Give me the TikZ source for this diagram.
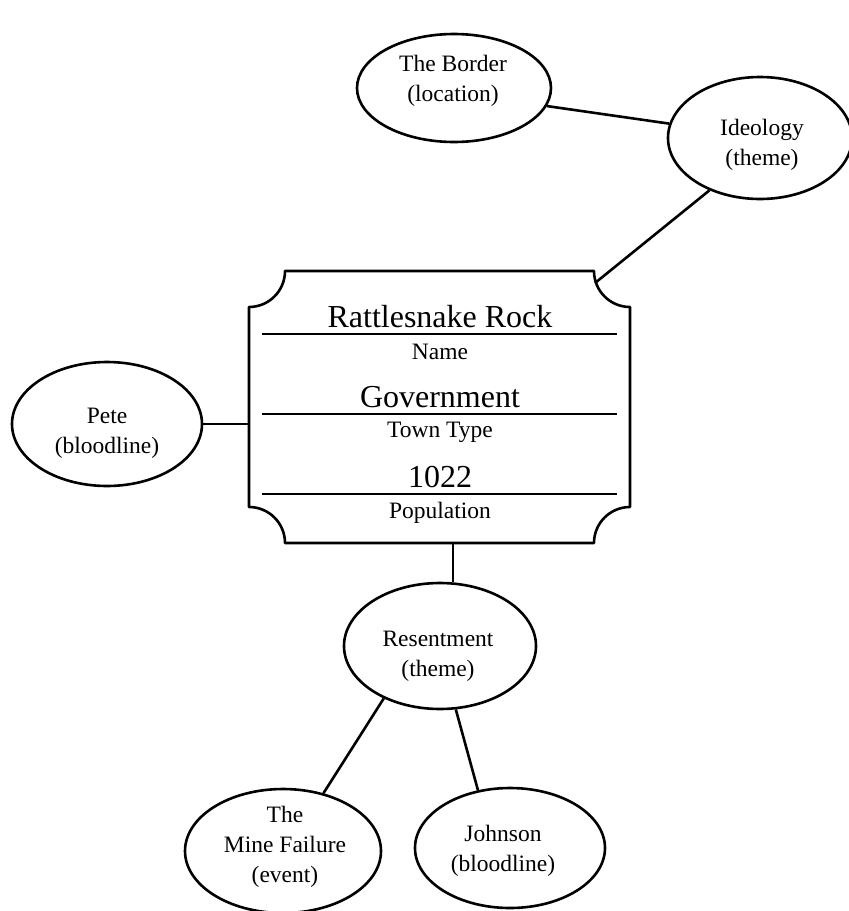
\documentclass[tikz,border=0pt]{standalone}
\usepackage{fontspec}
\setmainfont{Liberation Serif}
\usetikzlibrary{shapes.geometric}
\begin{document}
\begin{tikzpicture}[x=1pt,y=1pt,
  bubble/.style={draw, ellipse, line width=2.6pt, inner sep=0pt},
  small/.style={font=\fontsize{23.5}{30}\selectfont, align=center, inner sep=0pt},
  big/.style={font=\fontsize{32}{36}\selectfont, anchor=base, inner sep=0pt},
  tag/.style={font=\fontsize{23.5}{30}\selectfont, anchor=base, inner sep=0pt},
  link/.style={line width=2.6pt},
  rule/.style={line width=1.3pt}]
\useasboundingbox (0,0) rectangle (849,-911);
\clip (0,0) rectangle (849,-911);

% the town card with its notched corners
\node[minimum width=381pt, minimum height=272pt, inner sep=0pt] (town) at (439.5,-407) {};
\draw[line width=2.6pt, line join=round]
  (285,-271) -- (594,-271) arc[start angle=180, end angle=270, radius=36pt]
  -- (630,-507) arc[start angle=90, end angle=180, radius=36pt]
  -- (285,-543) arc[start angle=0, end angle=90, radius=36pt]
  -- (249,-307) arc[start angle=270, end angle=360, radius=36pt] -- cycle;
\draw[rule] (262,-334) -- (617,-334);
\draw[rule] (262,-414) -- (617,-414);
\draw[rule] (262,-494) -- (617,-494);
\node[big] (name) at (440,-327) {Rattlesnake Rock};
\node[tag] (namel) at (440,-359) {Name};
\node[big] (type) at (440,-407) {Government};
\node[tag] (typel) at (440,-437) {Town Type};
\node[big] (pop) at (440,-487) {1022};
\node[tag] (popl) at (440,-518) {Population};

% linked elements
\node[bubble, minimum width=194pt, minimum height=108pt] (bd) at (454,-88) {};
\node[small] (bdt) at (453,-81) {The Border\\(location)};
\node[bubble, minimum width=184pt, minimum height=122pt] (id) at (760,-138) {};
\node[small] (idt) at (762,-145) {Ideology\\(theme)};
\node[bubble, minimum width=190pt, minimum height=124pt] (pete) at (107,-424) {};
\node[small] (petet) at (107,-433) {Pete\\(bloodline)};
\node[bubble, minimum width=192pt, minimum height=126pt] (res) at (440,-646) {};
\node[small] (rest) at (438,-656) {Resentment\\(theme)};
\node[bubble, minimum width=196pt, minimum height=124pt] (mine) at (283,-851) {};
\node[small] (minet) at (285,-847) {The\\Mine Failure\\(event)};
\node[bubble, minimum width=190pt, minimum height=120pt] (john) at (510,-848) {};
\node[small] (johnt) at (503,-851) {Johnson\\(bloodline)};

% connectors
\coordinate (corner) at (595,-283);
\coordinate (foot) at (453,-543);
\draw[link] (bd.-11) -- (id.171);
\draw[link] (id.226) -- (corner);
\draw[link] (pete.east) -- (pete.east -| town.west);
\draw[link] (foot) -- (res.north -| foot);
\draw[link] (res.223) -- (mine.55);
\draw[link] (res.284) -- (john.119);
\end{tikzpicture}
\end{document}
